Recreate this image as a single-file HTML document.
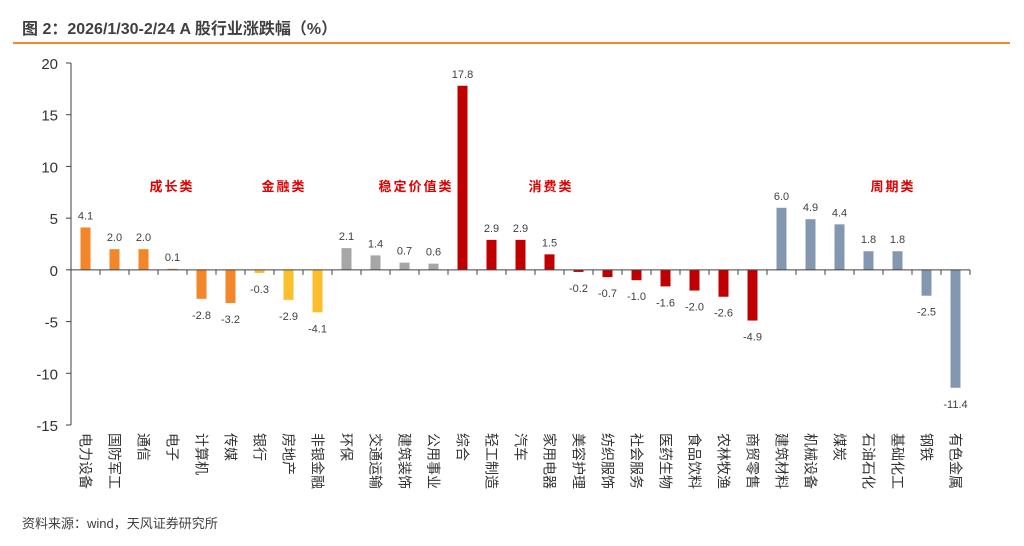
<!DOCTYPE html>
<html><head><meta charset="utf-8"><style>
body{margin:0;background:#fff;width:1024px;height:546px;overflow:hidden;font-family:"Liberation Sans","Noto Sans CJK SC",sans-serif;}
#title{position:absolute;left:22px;top:15px;font-size:16px;font-weight:bold;color:#404040;}
#tline{position:absolute;left:13px;top:42px;width:997px;height:2px;background:#F08A2E;}
#src{position:absolute;left:22px;top:513px;font-size:13px;color:#404040;}
</style></head><body>
<div id="title">图 2：2026/1/30-2/24 A 股行业涨跌幅（%）</div>
<div id="tline"></div>
<svg id="chart" width="1024" height="546" style="position:absolute;left:0;top:0"></svg>
<div id="src">资料来源：wind，天风证券研究所</div>
<script>
const categories=["电力设备","国防军工","通信","电子","计算机","传媒","银行","房地产","非银金融","环保","交通运输","建筑装饰","公用事业","综合","轻工制造","汽车","家用电器","美容护理","纺织服饰","社会服务","医药生物","食品饮料","农林牧渔","商贸零售","建筑材料","机械设备","煤炭","石油石化","基础化工","钢铁","有色金属"];
const values=[4.1,2.0,2.0,0.1,-2.8,-3.2,-0.3,-2.9,-4.1,2.1,1.4,0.7,0.6,17.8,2.9,2.9,1.5,-0.2,-0.7,-1.0,-1.6,-2.0,-2.6,-4.9,6.0,4.9,4.4,1.8,1.8,-2.5,-11.4];
const groups=["g","g","g","g","g","g","f","f","f","s","s","s","s","c","c","c","c","c","c","c","c","c","c","c","p","p","p","p","p","p","p"];
const groupNames=[["成长类",172],["金融类",284],["稳定价值类",416],["消费类",551],["周期类",893]];
const yTicks=[20,15,10,5,0,-5,-10,-15];
const colors={g:"#F4862A",f:"#FBBF2C",s:"#A6A6A6",c:"#C00000",p:"#8497B0"};
const NS="http://www.w3.org/2000/svg";
const svg=document.getElementById('chart');
const x0=71,band=29,yTop=63,yBot=425,vMax=20,vMin=-15;
const y=v=>yTop+(vMax-v)*(yBot-yTop)/(vMax-vMin);
const xc=i=>x0+band*(i+0.5);
function mk(t,a){const e=document.createElementNS(NS,t);for(const k in a)e.setAttribute(k,a[k]);svg.appendChild(e);return e;}
let ax=mk('line',{x1:x0,y1:yTop,x2:x0,y2:yBot,stroke:'#404040','stroke-width':1});


yTicks.forEach(v=>{
 let t=mk('line',{x1:x0-5,y1:y(v),x2:x0,y2:y(v),stroke:'#404040'});
 
 
 let l=mk('text',{x:58,y:y(v)+6,'text-anchor':'end','font-size':15,fill:'#333'});l.textContent=v;
 
 
});
values.forEach((v,i)=>{
 const w=10,y1=Math.min(y(v),y(0)),h=Math.max(Math.abs(y(v)-y(0)),1);
 let r=mk('rect',{x:xc(i)-w/2,y:y1,width:w,height:h,fill:colors[groups[i]]});
 
 
 let l=mk('text',{x:xc(i),y:v>=0?y(v)-8:y(v)+20,'text-anchor':'middle','font-size':11,fill:'#404040'});
 l.textContent=v.toFixed(1);
 
 
 let c=mk('text',{x:xc(i),y:433,'font-size':14,fill:'#333'});
 c.setAttribute('transform',`rotate(90 ${xc(i)} 433) translate(0 5)`);
 c.textContent=categories[i];
 
 
});
for(let i=0;i<=categories.length;i++){
 let t=mk('line',{x1:x0+band*i,y1:y(0),x2:x0+band*i,y2:y(0)+5,stroke:'#404040'});
 
 
}
let zl=mk('line',{x1:x0,y1:y(0),x2:x0+band*categories.length,y2:y(0),stroke:'#404040'});


groupNames.forEach(g=>{
 let t=mk('text',{x:g[1],y:191,'text-anchor':'middle','font-size':13,'font-weight':'bold','letter-spacing':2,fill:'#E00000'});
 t.textContent=g[0];
 
 
});
</script>
</body></html>
